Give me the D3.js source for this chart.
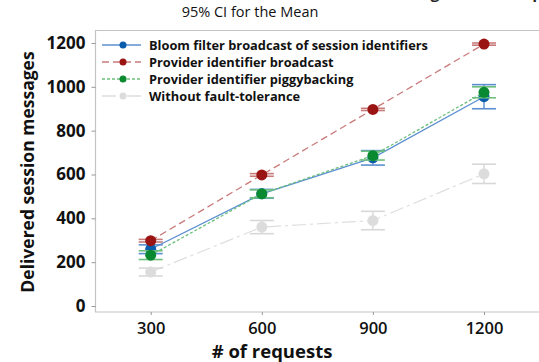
<!DOCTYPE html>
<html><head><meta charset="utf-8">
<script src="https://cdn.jsdelivr.net/npm/d3@7"></script>
<style>
body{margin:0;background:#fff;}
svg{display:block;font-family:"Open Sans","Noto Sans",sans-serif;}
</style></head>
<body><svg id="c" width="539" height="362"></svg>
<script>
const requests = [300, 600, 900, 1200];
const yTicks = [0, 200, 400, 600, 800, 1000, 1200];
const seriesNames = ["Bloom filter broadcast of session identifiers","Provider identifier broadcast","Provider identifier piggybacking","Without fault-tolerance"];
const bloomMean = [259, 512, 676, 955];
const bloomCI   = [20, 20, 33, 55];
const broadcastMean = [298, 598, 897, 1195];
const broadcastCI   = [6, 6, 5, 5];
const piggyMean = [232, 512, 686, 975];
const piggyCI   = [20, 18, 20, 25];
const noftMean = [155, 360, 390, 603];
const noftCI   = [18, 30, 42, 44];

const series = [
  {name: seriesNames[3], mean: noftMean, ci: noftCI, color:"#dcdcdc", line:"#dedede", dash:"14,4,3,4", lw:1.2},
  {name: seriesNames[0], mean: bloomMean, ci: bloomCI, color:"#0b5cad", line:"#5b8fd0", dash:null, lw:1.3},
  {name: seriesNames[2], mean: piggyMean, ci: piggyCI, color:"#0a8a30", line:"#6cbf7c", dash:"3,2", lw:1.3},
  {name: seriesNames[1], mean: broadcastMean, ci: broadcastCI, color:"#9b1414", line:"#c97b7b", dash:"7,4", lw:1.3}
];
const legendOrder = [1,3,2,0];

const svg = d3.select("#c");
const x = d3.scaleLinear().domain([300,1200]).range([150.7,484]);
const y = d3.scaleLinear().domain([0,1200]).range([306,43]);

// title (first line clipped by the image top)
svg.append("text").attr("x",355).attr("y",-1).attr("text-anchor","middle")
  .attr("font-size",15).attr("font-weight","bold").attr("fill","#222")
  .text("Interval Plot of Delivered session messages vs # of requests");
svg.append("text").attr("x",250).attr("y",17).attr("text-anchor","middle")
  .attr("font-size",14.5).attr("fill","#111").text("95% CI for the Mean");

// frame
const frame = "#c4c4c4";
svg.append("path").attr("d","M539,30.5H95.5V312H539").attr("fill","none").attr("stroke",frame).attr("stroke-width",1.2);

// axes
const ya = svg.append("g").attr("transform","translate(95.5,0)")
  .call(d3.axisLeft(y).tickValues(yTicks).tickFormat(d3.format("d")).tickSize(4).tickPadding(6));
ya.select(".domain").remove();
ya.selectAll(".tick line").attr("stroke","#999");
ya.selectAll(".tick text").attr("font-size",17).attr("font-weight","bold").attr("fill","#111")
  .attr("font-family","'Open Sans',sans-serif");

const xa = svg.append("g").attr("transform","translate(0,312)")
  .call(d3.axisBottom(x).tickValues(requests).tickFormat(d3.format("d")).tickSize(3).tickPadding(7));
xa.select(".domain").remove();
xa.selectAll(".tick line").attr("stroke","#999");
xa.selectAll(".tick text").attr("font-size",16.5).attr("font-weight","600").attr("fill","#111")
  .attr("font-family","'Open Sans',sans-serif");

svg.append("text").attr("x",272).attr("y",357.5).attr("text-anchor","middle")
  .attr("font-size",18.5).attr("font-weight","bold").attr("fill","#111").text("# of requests");
svg.append("text").attr("transform","translate(34,172) rotate(-90)").attr("text-anchor","middle")
  .attr("font-size",17.5).attr("font-weight","bold").attr("fill","#111").text("Delivered session messages");

// series
const line = d3.line().x((d,i)=>x(requests[i])).y(d=>y(d));
series.forEach(s=>{
  const g = svg.append("g");
  g.append("path").datum(s.mean).attr("d",line).attr("fill","none")
    .attr("stroke",s.line).attr("stroke-width",s.lw).attr("stroke-dasharray",s.dash);
  s.mean.forEach((m,i)=>{
    const cx = x(requests[i]), lo = y(m - s.ci[i]), hi = y(m + s.ci[i]);
    const cap = s.color === "#dcdcdc" ? "#d8d8d8" : s.line;
    g.append("line").attr("x1",cx).attr("x2",cx).attr("y1",lo).attr("y2",hi).attr("stroke",cap).attr("stroke-width",1.4);
    [lo,hi].forEach(yy=>g.append("line").attr("x1",cx-12).attr("x2",cx+12).attr("y1",yy).attr("y2",yy).attr("stroke",cap).attr("stroke-width",1.6));
  });
  g.selectAll("circle").data(s.mean).join("circle")
    .attr("cx",(d,i)=>x(requests[i])).attr("cy",d=>y(d)).attr("r",5.5).attr("fill",s.color);
});

// legend
const lg = svg.append("g");
legendOrder.forEach((si,k)=>{
  const s = series[si];
  const yy = 45 + k*17;
  lg.append("line").attr("x1",102).attr("x2",141).attr("y1",yy).attr("y2",yy)
    .attr("stroke",s.line).attr("stroke-width",1.3).attr("stroke-dasharray",s.dash);
  lg.append("circle").attr("cx",123).attr("cy",yy).attr("r",3.5).attr("fill",s.color);
  lg.append("text").attr("x",149).attr("y",yy+4.5).attr("font-size",12.8).attr("font-weight","bold")
    .attr("fill","#111").text(s.name);
});
</script></body></html>
